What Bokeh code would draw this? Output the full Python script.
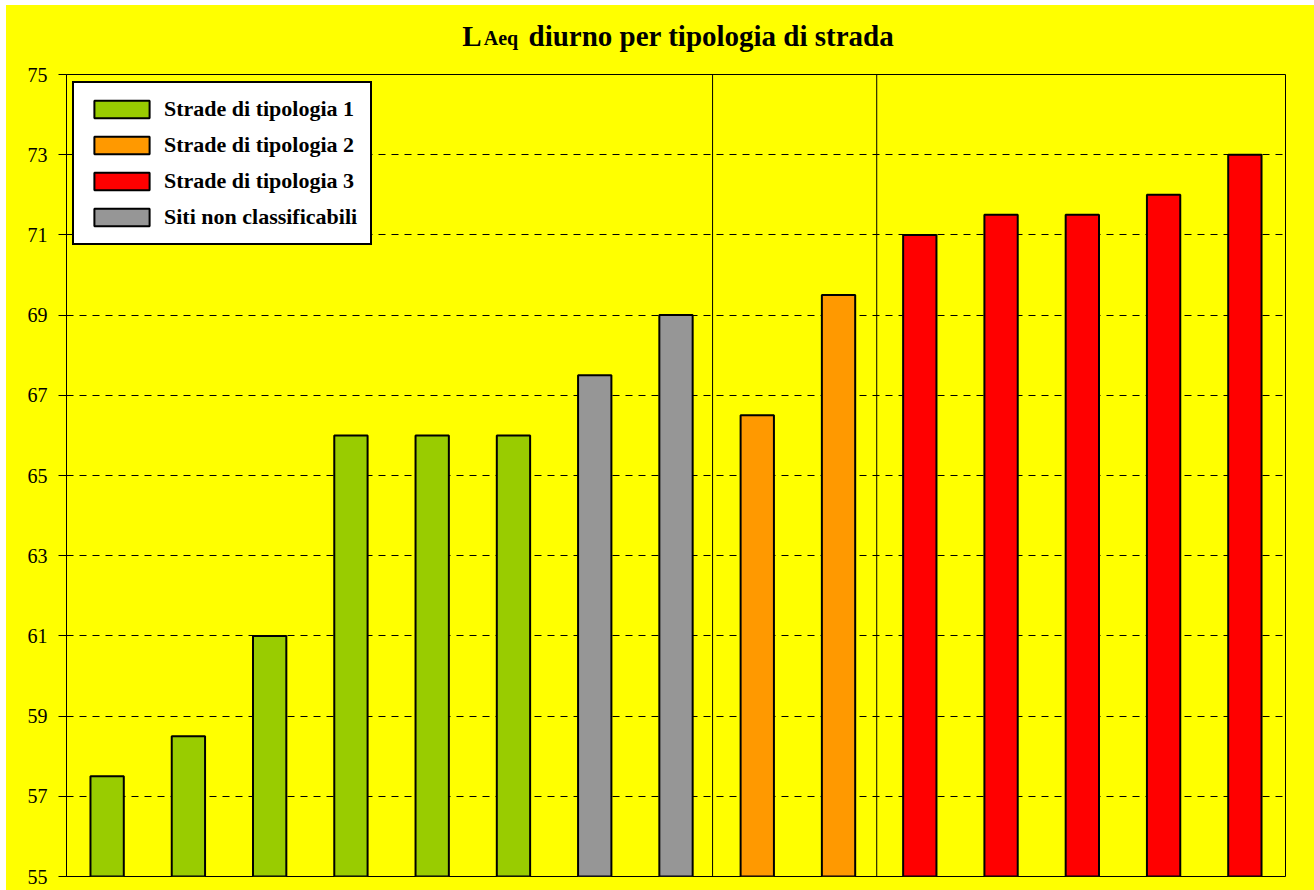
from bokeh.plotting import figure
from bokeh.models import (ColumnDataSource, FixedTicker, Span, Legend, LegendItem, Range1d)
from bokeh.layouts import column
from bokeh.core.properties import value
from bokeh.embed import file_html
from bokeh.resources import INLINE

# ---- data ----
sites = [1, 2, 3, 4, 5, 6, 7, 8, 9, 10, 11, 12, 13, 14, 15]
laeq = [57.5, 58.5, 61.0, 66.0, 66.0, 66.0, 67.5, 69.0, 66.5, 69.5, 71.0, 71.5, 71.5, 72.0, 73.0]
types = ["T1", "T1", "T1", "T1", "T1", "T1", "NC", "NC", "T2", "T2", "T3", "T3", "T3", "T3", "T3"]
type_keys = ["T1", "T2", "T3", "NC"]
type_labels = ["Strade di tipologia 1", "Strade di tipologia 2", "Strade di tipologia 3", "Siti non classificabili"]
type_colors = ["#99CC00", "#FF9900", "#FF0000", "#969696"]
y_ticks = [55, 57, 59, 61, 63, 65, 67, 69, 71, 73, 75]
separators = [8.45, 10.47]
title_parts = ["L", "Aeq", "diurno per tipologia di strada"]

FONT = "Liberation Serif"
YELLOW = "#FFFF00"
W = 1308
BL, BR = 60, 29

# ---- title strip (its frame is aligned with the chart frame: page x 66..1285, y 5..64) ----
t = figure(width=W, height=59, output_backend="svg", toolbar_location=None,
           x_range=Range1d(66, 1285), y_range=Range1d(64, 5),
           background_fill_color=YELLOW, border_fill_color=YELLOW,
           min_border_left=BL, min_border_right=BR, min_border_top=0, min_border_bottom=0,
           outline_line_color=None)
t.axis.visible = False
t.grid.visible = False
title_x = [461.7, 483.3, 528.0]
title_y = [35.3, 37.6, 35.3]
title_sizes = ["29px", "20px", "29px"]
for txt, tx, ty, sz in zip(title_parts, title_x, title_y, title_sizes):
    t.text(x=[tx], y=[ty], text=[txt], text_font=value(FONT), text_font_style="bold",
           text_font_size=value(sz), text_color="black",
           text_baseline="alphabetic", text_align="left")

# ---- main chart ----
p = figure(width=W, height=826, output_backend="svg", toolbar_location=None,
           x_range=(0.5, 15.5), y_range=(55, 75),
           background_fill_color=YELLOW, border_fill_color=YELLOW,
           min_border_left=BL, min_border_right=BR, min_border_top=10, min_border_bottom=14)
p.outline_line_color = "black"
p.outline_line_width = 1

p.xaxis.visible = False
p.xgrid.visible = False

p.yaxis.ticker = FixedTicker(ticks=y_ticks)
p.yaxis.axis_line_color = "black"
p.yaxis.major_tick_line_color = "black"
p.yaxis.major_tick_out = 8
p.yaxis.major_tick_in = 0
p.yaxis.minor_tick_line_color = None
p.yaxis.major_label_standoff = 11
p.yaxis.major_label_text_font = FONT
p.yaxis.major_label_text_font_size = "20px"
p.yaxis.major_label_text_color = "black"

p.ygrid.ticker = FixedTicker(ticks=y_ticks)
p.ygrid.grid_line_color = "black"
p.ygrid.grid_line_dash = "7 6"
p.ygrid.grid_line_width = 1

for xs in separators:
    p.add_layout(Span(location=xs, dimension="height", line_color="black", line_width=1))

items = []
for key, lab, col in zip(type_keys, type_labels, type_colors):
    xs = [s for s, tt in zip(sites, types) if tt == key]
    ys = [v for v, tt in zip(laeq, types) if tt == key]
    src = ColumnDataSource(dict(x=xs, top=ys))
    r = p.vbar(x="x", top="top", bottom=55, width=0.41, source=src,
               fill_color=col, line_color="black", line_width=2)
    items.append(LegendItem(label=lab, renderers=[r]))

legend = Legend(items=items, location=(6, 631),
                background_fill_color="white", background_fill_alpha=1,
                border_line_color="black", border_line_width=2, border_line_alpha=1,
                label_text_font=FONT, label_text_font_style="bold",
                label_text_font_size="22px", label_text_color="black",
                glyph_width=69, glyph_height=22, label_height=22, label_standoff=8,
                spacing=10, padding=13, margin=0)
p.add_layout(legend)

layout = column(t, p, spacing=0, margin=(5, 0, 0, 6),
                styles={"background-color": YELLOW})
open("out.html", "w").write(file_html(layout, INLINE))
